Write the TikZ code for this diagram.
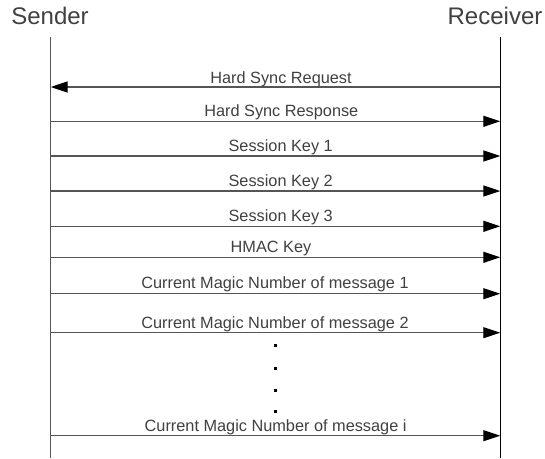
\documentclass[tikz,border=0pt]{standalone}
\usepackage{fontspec}
\setmainfont{Liberation Sans}
\usetikzlibrary{arrows.meta}
\definecolor{txt}{HTML}{404040}
\definecolor{ln}{HTML}{555555}
\begin{document}
\begin{tikzpicture}[x=1pt,y=-1pt,
  title/.style={font=\fontsize{24}{28}\selectfont, text=txt, inner sep=0pt, anchor=base},
  msglabel/.style={font=\fontsize{16.3}{19}\selectfont, text=txt, inner sep=0pt, anchor=base},
  lifeline/.style={line width=1.2pt},
  msg/.style={draw=ln, line width=1.3pt, -{Triangle[length=17pt,width=11pt,color=black,fill=black]}},
  dotmark/.style={fill=black, minimum size=3pt, inner sep=0pt, draw=none, rectangle}]
\useasboundingbox (0,0) rectangle (545,458);
% titles
\node[title] (sender) at (50,24.3) {Sender};
\node[title] (receiver) at (495,24.3) {Receiver};
% lifelines
\coordinate (sTop) at (50.7,37);
\coordinate (sBot) at (50.7,458);
\coordinate (rTop) at (500.3,37);
\coordinate (rBot) at (500.3,458);
\draw[lifeline, draw=ln] (sTop) -- (sBot);
\draw[lifeline, draw=black] (rTop) -- (rBot);
% message anchors
\foreach \n/\y in {1/87,2/121.3,3/156,4/191,5/226.3,6/257.3,7/293.7,8/332.7,9/435.7}{
  \coordinate (s\n) at (50.7,\y);
  \coordinate (r\n) at (500.3,\y);
}
% messages
\draw[msg] (r1) -- (s1);
\draw[msg] (s2) -- (r2);
\draw[msg] (s3) -- (r3);
\draw[msg] (s4) -- (r4);
\draw[msg] (s5) -- (r5);
\draw[msg] (s6) -- (r6);
\draw[msg] (s7) -- (r7);
\draw[msg] (s8) -- (r8);
\draw[msg] (s9) -- (r9);
% labels
\node[msglabel] (l1) at (281,83) {Hard Sync Request};
\node[msglabel] (l2) at (281.3,116.5) {Hard Sync Response};
\node[msglabel] (l3) at (280.7,151) {Session Key 1};
\node[msglabel] (l4) at (280.7,186) {Session Key 2};
\node[msglabel] (l5) at (280.7,221.3) {Session Key 3};
\node[msglabel] (l6) at (271,252.5) {HMAC Key};
\node[msglabel] (l7) at (275,288.7) {Current Magic Number of message 1};
\node[msglabel] (l8) at (275,328) {Current Magic Number of message 2};
\node[msglabel] (l9) at (275.6,431.5) {Current Magic Number of message i};
% ellipsis dots
\node[dotmark] (d1) at (275,345.7) {};
\node[dotmark] (d2) at (275,368.3) {};
\node[dotmark] (d3) at (275,390.3) {};
\node[dotmark] (d4) at (275,411.3) {};
\end{tikzpicture}
\end{document}
